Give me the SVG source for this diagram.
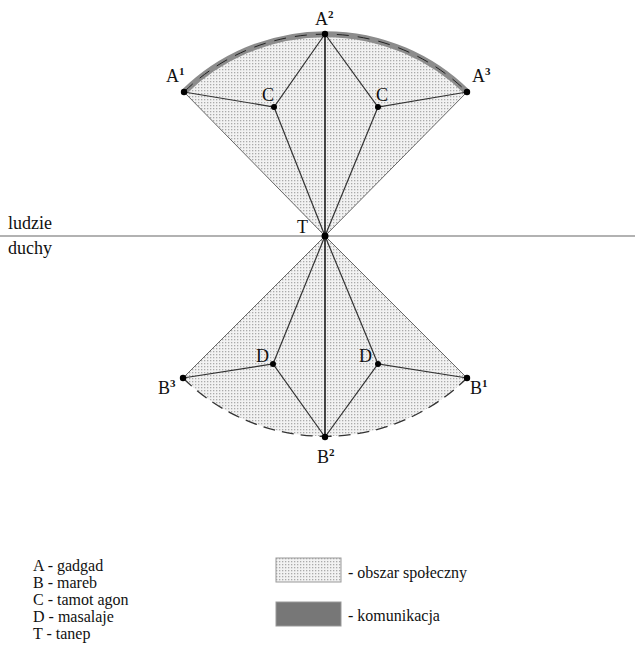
<svg xmlns="http://www.w3.org/2000/svg" width="635" height="665" viewBox="0 0 635 665">
<style>
.lbl{font-family:"Liberation Serif","Times New Roman",serif;font-size:18px;fill:#111}
.sup{font-size:11px;font-weight:bold}
.leg{font-family:"Liberation Serif","Times New Roman",serif;font-size:16px;fill:#111}
.edge{stroke:#666;stroke-width:1;fill:none}
.inner{stroke:#333;stroke-width:1.2;fill:none}
.axis{stroke:#111;stroke-width:1.5}
.pt{fill:#000}
</style>
<defs>
<pattern id="dots" width="3" height="3" patternUnits="userSpaceOnUse">
<rect width="3" height="3" fill="#f2f2f2"/>
<rect width="1.3" height="1.3" fill="#aaa"/>
</pattern>
</defs>
<rect width="635" height="665" fill="#fff"/>
<g id="areas">
<path d="M325,236 L184,92 A202,202 0 0 1 467,92 Z" fill="url(#dots)"/>
<path d="M325,236 L183,378 A202,202 0 0 0 467,378 Z" fill="url(#dots)"/>
</g>
<g id="connectors">
<line x1="0" y1="236" x2="635" y2="236" stroke="#666" stroke-width="1.2"/>
<path d="M184,92 A202,202 0 0 1 467,92" stroke="#8c8c8c" stroke-width="6" fill="none"/>
<path d="M184,92 A202,202 0 0 1 467,92" stroke="#222" stroke-width="1" stroke-dasharray="12,9" fill="none"/>
<path d="M183,378 A202,202 0 0 0 467,378" stroke="#333" stroke-width="1.3" stroke-dasharray="12,7" fill="none"/>
<line class="edge" x1="325" y1="236" x2="184" y2="92"/>
<line class="edge" x1="325" y1="236" x2="467" y2="92"/>
<line class="edge" x1="325" y1="236" x2="183" y2="378"/>
<line class="edge" x1="325" y1="236" x2="467" y2="378"/>
<line class="axis" x1="325" y1="34" x2="325" y2="437"/>
<polyline class="inner" points="184,92 274,107 325,34"/>
<line class="inner" x1="274" y1="107" x2="325" y2="236"/>
<polyline class="inner" points="467,92 378,107 325,34"/>
<line class="inner" x1="378" y1="107" x2="325" y2="236"/>
<polyline class="inner" points="183,378 273,364 325,437"/>
<line class="inner" x1="273" y1="364" x2="325" y2="236"/>
<polyline class="inner" points="467,378 378,364 325,437"/>
<line class="inner" x1="378" y1="364" x2="325" y2="236"/>
</g>
<g id="node-A2"><circle class="pt" cx="325" cy="34" r="3.2"/><text class="lbl" x="315" y="25">A<tspan class="sup" dy="-7">2</tspan></text></g>
<g id="node-A1"><circle class="pt" cx="184" cy="92" r="3.2"/><text class="lbl" x="166" y="82">A<tspan class="sup" dy="-7">1</tspan></text></g>
<g id="node-A3"><circle class="pt" cx="467" cy="92" r="3.2"/><text class="lbl" x="472" y="82">A<tspan class="sup" dy="-7">3</tspan></text></g>
<g id="node-C1"><circle class="pt" cx="274" cy="107" r="3"/><text class="lbl" x="262" y="101">C</text></g>
<g id="node-C2"><circle class="pt" cx="378" cy="107" r="3"/><text class="lbl" x="376" y="101">C</text></g>
<g id="node-T"><circle class="pt" cx="325" cy="236" r="3.5"/><text class="lbl" x="297" y="233">T</text></g>
<g id="node-D1"><circle class="pt" cx="273" cy="364" r="3"/><text class="lbl" x="256" y="362">D</text></g>
<g id="node-D2"><circle class="pt" cx="378" cy="364" r="3"/><text class="lbl" x="359" y="362">D</text></g>
<g id="node-B3"><circle class="pt" cx="183" cy="378" r="3.2"/><text class="lbl" x="158" y="394">B<tspan class="sup" dy="-7">3</tspan></text></g>
<g id="node-B1"><circle class="pt" cx="467" cy="378" r="3.2"/><text class="lbl" x="470" y="394">B<tspan class="sup" dy="-7">1</tspan></text></g>
<g id="node-B2"><circle class="pt" cx="325" cy="437" r="3.2"/><text class="lbl" x="317" y="463">B<tspan class="sup" dy="-7">2</tspan></text></g>
<g id="sides">
<text class="lbl" x="8" y="229">ludzie</text>
<text class="lbl" x="8" y="254">duchy</text>
</g>
<g id="legend">
<text class="leg" x="33" y="571">A - gadgad</text>
<text class="leg" x="33" y="588">B - mareb</text>
<text class="leg" x="33" y="605">C - tamot agon</text>
<text class="leg" x="33" y="622">D - masalaje</text>
<text class="leg" x="33" y="639">T -  tanep</text>
<rect x="276" y="558" width="65" height="24" fill="url(#dots)" stroke="#999" stroke-width="1"/>
<text class="leg" x="348" y="578">- obszar społeczny</text>
<rect x="276" y="602" width="65" height="24" fill="#777" stroke="#999" stroke-width="1"/>
<text class="leg" x="348" y="621">- komunikacja</text>
</g>
</svg>
